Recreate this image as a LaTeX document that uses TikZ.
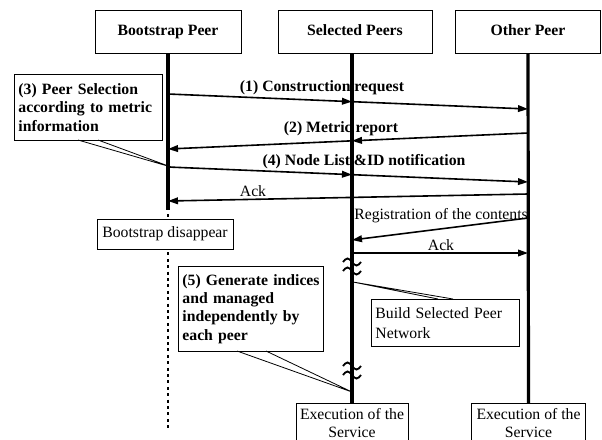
\documentclass[tikz,border=0pt]{standalone}
\usepackage{fontspec}
\setmainfont{Liberation Serif}
\usetikzlibrary{arrows.meta,calc}

\tikzset{
  peerbox/.style={draw, fill=white, line width=0.6pt, minimum height=32.25pt, text height=8.2pt, text depth=2.6pt, font=\fontsize{11.8}{14}\selectfont\bfseries},
  endbox/.style={draw, fill=white, line width=0.6pt, anchor=north, minimum width=84pt, minimum height=29.5pt, inner sep=1pt, align=center, font=\fontsize{11.8}{14}\selectfont},
  notebox/.style={draw, fill=white, line width=0.6pt, anchor=north west, align=left, inner sep=2.5pt},
  lifeline/.style={line width=2.4pt},
  gone/.style={line width=2.2pt, dash pattern=on 2.2pt off 2.6pt},
  msg/.style={line width=1.2pt, -{Triangle[length=7.5pt,width=5pt]}},
  pointer/.style={line width=0.6pt},
  breakmark/.style={line width=1.4pt},
  msglabel/.style={font=\fontsize{11.8}{14}\selectfont\bfseries, inner sep=1pt},
  acklabel/.style={font=\fontsize{11.8}{14}\selectfont, inner sep=1pt}
}

\begin{document}
\begin{tikzpicture}[x=0.75pt,y=0.75pt,yscale=-1,xscale=1,font=\fontsize{11.8}{14}\selectfont]
\useasboundingbox (0,0) rectangle (602,439);

% Peer boxes
\node[peerbox, minimum width=109.5pt] (bp) at (168,31.5) {Bootstrap Peer};
\node[peerbox, minimum width=115.5pt] (sp) at (355,31.5) {Selected Peers};
\node[peerbox, minimum width=109pt] (op) at (528,31.5) {Other Peer};

% End boxes
\node[endbox] (exsp) at (352,403) {Execution of the\\Service};
\node[endbox, minimum width=85pt] (exop) at (528.5,403) {Execution of the\\Service};

% Lifelines
\coordinate (bp cut) at (168,210);
\coordinate (bp rest) at (168,214);
\coordinate (bp end) at (168,430);
\draw[lifeline] (bp.south) -- (bp cut);
\draw[gone] (bp rest) -- (bp end);
\draw[lifeline] (352,53) -- (exsp.north);
\draw[lifeline] (op.south) -- (exop.north);

% Bootstrap disappear
\node[draw, fill=white, line width=0.6pt, minimum width=102pt, minimum height=22.5pt, inner sep=1pt] (bdis) at (165,234) {Bootstrap disappear};

% (1) Construction request
\coordinate (b1) at (168,94);
\coordinate (o1) at (528,109);
\coordinate (s1) at ($(b1)!0.511!(o1)$);
\draw[msg] (b1) -- (s1);
\draw[msg] (s1) -- (o1);
\node[msglabel] (l1) at (322,88) {(1) Construction request};

% (2) Metric report
\coordinate (o2) at (528,133);
\coordinate (b2) at (168,149);
\coordinate (s2) at ($(o2)!0.489!(b2)$);
\draw[msg] (o2) -- (s2);
\draw[msg] (s2) -- (b2);
\node[msglabel] (l2) at (341,129) {(2) Metric report};

% (4) Node List &ID notification
\coordinate (b4) at (168,167);
\coordinate (o4) at (528,182);
\coordinate (s4) at ($(b4)!0.511!(o4)$);
\draw[msg] (b4) -- (s4);
\draw[msg] (s4) -- (o4);
\node[msglabel] (l4) at (364,162) {(4) Node List \&ID notification};

% Ack to bootstrap
\coordinate (o5) at (528,194);
\coordinate (b5) at (168,201);
\draw[msg] (o5) -- (b5);
\node[acklabel] (la) at (253,191) {Ack};

% Registration of the contents
\coordinate (o6) at (528,218);
\coordinate (s6) at (352,240);
\draw[msg] (o6) -- (s6);
\node[acklabel] (lr) at (441,216) {Registration of the contents};

% Ack to other peer
\coordinate (s7) at (352,253);
\coordinate (o7) at (528,253);
\draw[msg] (s7) -- (o7);
\node[acklabel] (lb) at (441,245) {Ack};

% Break marks
\foreach \y in {262,271,366,375}
  \draw[breakmark] (343,\y) sin (347.5,\y-3.5) cos (352,\y) sin (356.5,\y+3.5) cos (361,\y);

% Note (3)
\node[notebox, minimum width=111pt, minimum height=49.5pt, text width=105pt, font=\fontsize{11.8}{14}\selectfont\bfseries] (note3) at (14,74) {(3) Peer Selection\\according to metric\\information};
\coordinate (tip3) at (171,167);
\draw[pointer] (78,140) -- (tip3) -- (98,140);

% Note (5)
\node[notebox, minimum width=109pt, minimum height=63.75pt, text width=103pt, font=\fontsize{11.8}{13.8}\selectfont\bfseries] (note5) at (178,266) {(5) Generate indices\\and managed\\independently by\\each peer};
\coordinate (tip5) at (352,392);
\draw[pointer] (237,351) -- (tip5) -- (266,351);

% Build Selected Peer Network
\node[notebox, minimum width=111pt, minimum height=35.25pt, text width=105pt, font=\fontsize{11.8}{15}\selectfont] (nbuild) at (371,299) {Build Selected Peer\\Network};
\coordinate (tipb) at (353,282);
\draw[pointer] (438,299) -- (tipb) -- (453,299);

\end{tikzpicture}
\end{document}
